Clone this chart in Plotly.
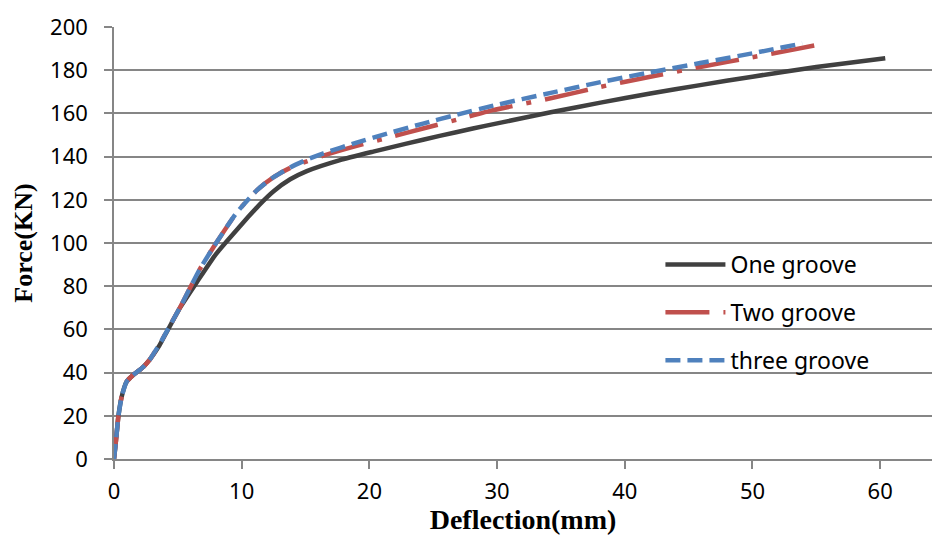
import plotly.graph_objects as go

# ---- data ----
one_x = [0, 0.16, 0.34, 0.6, 0.99, 1.5, 2.3, 2.8, 3.5, 4.1, 5.2, 6.5, 8.0, 9.9, 10.5, 11.4, 12.5, 13.8, 15.1, 17.7, 20.3, 22.9, 25.5, 28.1, 30.2, 34.2, 38.1, 42, 45.9, 50, 55, 60.4]
one_y = [0, 8.8, 19.6, 28.8, 35.8, 38.9, 42.7, 46, 52, 58.5, 70.3, 82, 95, 108, 112, 117.8, 124, 129.5, 133.3, 138.4, 142.3, 146, 149.6, 153, 155.6, 160.5, 165, 169.2, 173.1, 177, 181.5, 185.5]

two_x = [0, 0.16, 0.34, 0.6, 0.99, 1.5, 2.3, 2.8, 3.7, 4.5, 5.2, 6.7, 8.0, 9.6, 11.2, 12.5, 13.8, 15.1, 16.4, 19, 21.6, 24.2, 26.8, 29.7, 34.2, 38.1, 42, 45.9, 50, 53, 55.1]
two_y = [0, 8.8, 19.6, 28.8, 35.8, 38.9, 42.7, 46, 54.5, 63, 70.5, 87.7, 100, 114, 124.5, 130.5, 134.8, 137.8, 140.5, 145, 149, 153, 157, 161.5, 167, 172.3, 177, 181.5, 186, 189.3, 191.7]

three_x = [0, 0.16, 0.34, 0.6, 0.99, 1.5, 2.3, 2.8, 3.7, 4.5, 5.2, 6.7, 8.0, 9.6, 11.2, 12.5, 13.8, 15.1, 16.4, 19, 21.6, 24.2, 26.8, 29.7, 34.2, 38.1, 42, 45.9, 50, 53.9]
three_y = [0, 8.8, 19.6, 28.8, 35.8, 38.9, 42.7, 46, 54.5, 63, 70.5, 87.7, 100, 114, 124.5, 130.5, 135, 138.6, 141.5, 146.5, 151, 155.3, 159.3, 163.6, 169.5, 174.5, 179, 183.3, 187.8, 192.4]

names = ["One groove", "Two groove", "three groove"]
x_ticks = [0, 10, 20, 30, 40, 50, 60]
y_ticks = [0, 20, 40, 60, 80, 100, 120, 140, 160, 180, 200]

fig = go.Figure()
fig.add_trace(go.Scatter(x=one_x, y=one_y, mode="lines", name=names[0], legendgroup="a",
                         line=dict(color="#404040", width=4.5, shape="spline", smoothing=0.5)))
fig.add_trace(go.Scatter(x=two_x, y=two_y, mode="lines", name=names[1], legendgroup="b",
                         line=dict(color="#C0504D", width=4.5, dash="44px,14px,5px,14px", shape="spline", smoothing=0.5)))
fig.add_trace(go.Scatter(x=three_x, y=three_y, mode="lines", name=names[2], legendgroup="c",
                         line=dict(color="#4F81BD", width=4.5, dash="15px,7px", shape="spline", smoothing=0.5)))

grid = "#868686"
fig.update_layout(
    width=932, height=535,
    margin=dict(l=114, r=0, t=27, b=76),
    paper_bgcolor="white", plot_bgcolor="white",
    font=dict(family="Noto Sans", size=22, color="black"),
    showlegend=True,
    legend=dict(x=0.668, y=0.5, xanchor="left", yanchor="top",
                bgcolor="rgba(0,0,0,0)", font=dict(size=23), tracegroupgap=15,
                itemwidth=60),
    xaxis=dict(range=[0, 64.06], tickvals=x_ticks, showgrid=False, zeroline=False,
               automargin=False,
               showline=True, linecolor=grid, linewidth=1.5,
               ticks="outside", ticklen=8, tickcolor=grid, tickwidth=1.5,
               ticklabelstandoff=4,
               title=dict(text="<b>Deflection(mm)</b>", standoff=2,
                          font=dict(family="Liberation Serif", size=28, color="black"))),
    yaxis=dict(range=[0, 200], tickvals=y_ticks, showgrid=True, gridcolor=grid, gridwidth=1.5,
               automargin=False,
               zeroline=False, showline=True, linecolor=grid, linewidth=1.5,
               ticks="outside", ticklen=8, tickcolor=grid, tickwidth=1.5,
               ticklabelstandoff=12,
               title=dict(text="<b>Force(KN)</b>", standoff=10,
                          font=dict(family="Liberation Serif", size=26, color="black"))),
)

# remove the default page margin/scrollbars so the 932x535 figure fills the window exactly
fig.write_html(
    "out.html",
    config={"displayModeBar": False},
    post_script=("document.body.style.margin='0';"
                 "document.body.style.overflow='hidden';"
                 "document.documentElement.style.overflow='hidden';"),
)
